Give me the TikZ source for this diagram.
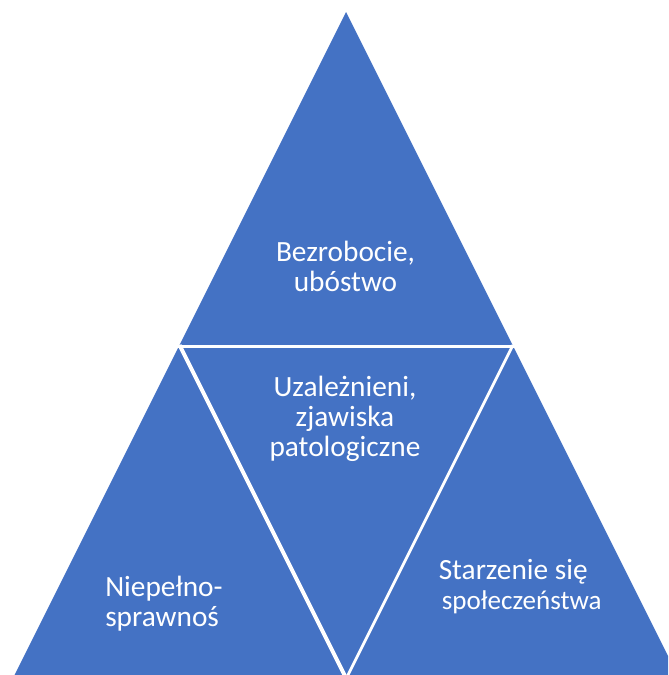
\documentclass[tikz,border=0pt]{standalone}
\usepackage{fontspec}
\setmainfont{Carlito}
\definecolor{segblue}{HTML}{4472C4}
\begin{document}
\begin{tikzpicture}[x=0.75pt,y=-0.75pt,
  seg/.style={fill=segblue,draw=none},
  gap/.style={draw=white,line cap=butt},
  lbl/.style={text=white,font=\fontsize{22}{22.5}\selectfont,inner sep=0pt}]
\useasboundingbox (0,0) rectangle (668,675);
\begin{scope}
\clip (0,0) rectangle (668,675);
\fill[seg] (346,12) -- (12,680) -- (680,680) -- cycle;
\draw[gap,line width=2.4pt] (150,346.5) -- (540,346.5);
\draw[gap,line width=3pt] (179.5,345) -- (346.5,679);
\draw[gap,line width=2.1pt] (513,345) -- (346,679);
\end{scope}
\node[lbl,align=center] (top) at (345.5,266) {Bezrobocie,\\ubóstwo};
\node[lbl,align=center] (mid) at (345,419) {Uzależnieni,\\zjawiska\\patologiczne};
\node[lbl,align=left,anchor=west] (left) at (105,604) {Niepełno-\\sprawnoś};
\node[lbl,align=left,anchor=west] (right) at (438.5,587) {Starzenie się\\\hspace*{2.3pt}{\fontsize{20.3}{22.5}\selectfont społeczeństwa}};
\end{tikzpicture}
\end{document}
